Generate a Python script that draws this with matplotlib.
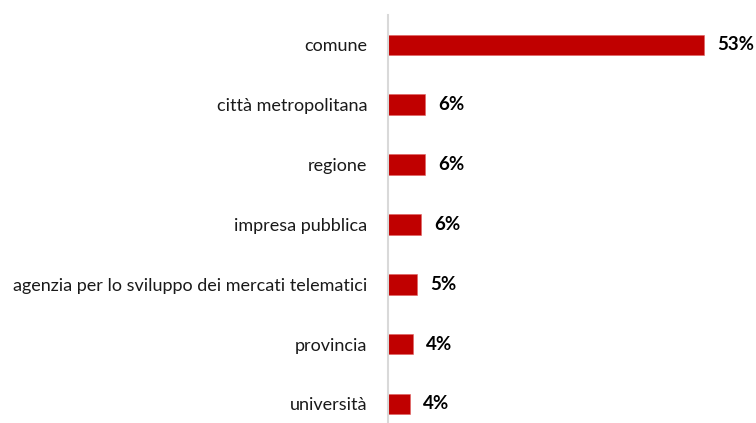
import matplotlib
matplotlib.use("Agg")
import matplotlib.pyplot as plt

categories = ["comune", "città metropolitana", "regione", "impresa pubblica",
              "agenzia per lo sviluppo dei mercati telematici", "provincia", "università"]
values = [53.0, 6.3, 6.3, 5.6, 5.0, 4.3, 3.8]
value_labels = ["53%", "6%", "6%", "6%", "5%", "4%", "4%"]

W, H = 756, 423
fig = plt.figure(figsize=(W/100, H/100), dpi=100)
left_px, top_px, bottom_px = 387.5, 15, 423
px_per_unit = 5.98
xmax = 60
ax = fig.add_axes([left_px/W, (H-bottom_px)/H, xmax*px_per_unit/W, (bottom_px-top_px)/H])

ypos = list(range(len(categories)))
ax.barh(ypos, values, height=0.346, color="#c00000", edgecolor="#e06060", linewidth=0.4)
ax.set_xlim(0, xmax)
ax.set_ylim(6.32, -0.5)
ax.set_yticks(ypos)
ax.set_yticklabels(categories, fontsize=13, color="#1a1a1a", family=["Lato", "DejaVu Sans"])
ax.tick_params(axis="y", length=0, pad=14.5)
ax.set_xticks([])
for s in ["top", "right", "bottom"]:
    ax.spines[s].set_visible(False)
ax.spines["left"].set_color("#d9d9d9")
ax.spines["left"].set_linewidth(1.5)

for y, v, lab in zip(ypos, values, value_labels):
    ax.annotate(lab, (v, y), xytext=(9.3, 0), textcoords="offset points",
                va="center", ha="left", fontsize=13.5, fontweight="bold",
                color="#000000", family=["Lato", "DejaVu Sans"], annotation_clip=False)

fig.savefig("out.png", dpi=100)
